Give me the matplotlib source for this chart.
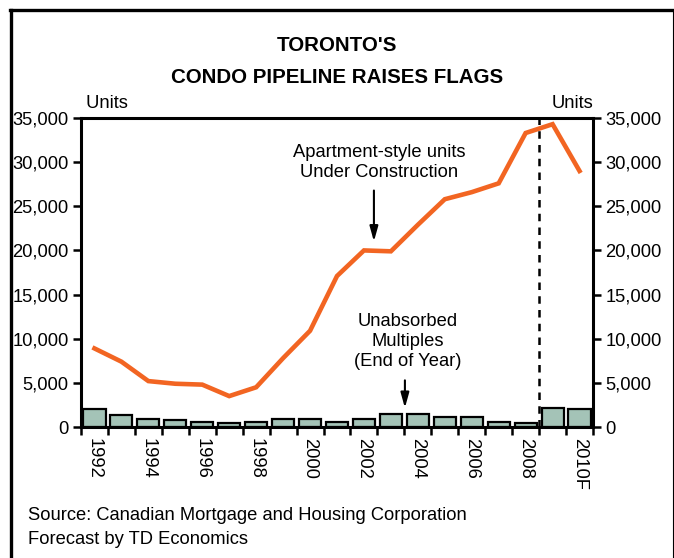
import numpy as np
import matplotlib
matplotlib.use("Agg")
import matplotlib.pyplot as plt
from matplotlib.lines import Line2D

plt.rcParams['font.family'] = ['Liberation Sans', 'DejaVu Sans']

years = ["1992", "1993", "1994", "1995", "1996", "1997", "1998", "1999", "2000", "2001",
         "2002", "2003", "2004", "2005", "2006", "2007", "2008", "2009", "2010F"]
under_construction = [8900, 7400, 5200, 4900, 4800, 3500, 4500, 7800, 10900, 17100,
                      20000, 19900, 22900, 25800, 26600, 27600, 33300, 34300, 29000]
unabsorbed = [2000, 1400, 870, 800, 570, 450, 570, 900, 900, 570,
              900, 1430, 1430, 1130, 1170, 570, 450, 2150, 2040]

ORANGE = "#f26522"
BAR = "#a4c3b7"
FS = 13.2

fig = plt.figure(figsize=(6.74, 5.58), dpi=100)
ax = fig.add_axes([81 / 674, 1 - 427 / 558, 512 / 674, 309 / 558])

x = np.arange(len(years))
ax.bar(x, unabsorbed, width=0.82, color=BAR, edgecolor="black", linewidth=1.6, zorder=2)
ax.plot(x, under_construction, color=ORANGE, linewidth=3.3, zorder=3,
        solid_joinstyle="miter")

# forecast divider
ax.axvline(16.5, ymin=0, ymax=1.01, color="black", linestyle=(0, (3, 2.5)),
           linewidth=1.8, clip_on=False, zorder=4)

ax.set_xlim(-0.5, len(years) - 0.5)
ax.set_ylim(0, 35000)

# ticks at the category boundaries, labels on every other year
ax.set_xticks(np.arange(-0.5, len(years), 1.0))
ax.set_xticklabels([])
ax.set_xticks(x[::2], minor=True)
ax.set_xticklabels(years[::2], minor=True, rotation=-90, fontsize=FS)
ax.tick_params(axis="x", which="major", direction="out", length=6, width=1.8)
ax.tick_params(axis="x", which="minor", length=0, pad=8)

yt = np.arange(0, 35001, 5000)
ax.set_yticks(yt)
ax.set_yticklabels([f"{v:,}" for v in yt])
ax.tick_params(axis="y", direction="out", length=6, width=1.8, labelsize=FS,
               left=True, right=True, labelleft=True, labelright=True, pad=3)

for s in ax.spines.values():
    s.set_linewidth(2.2)

ax.text(0.0, 1.02, " Units", transform=ax.transAxes, ha="left", va="bottom", fontsize=FS)
ax.text(1.0, 1.02, "Units", transform=ax.transAxes, ha="right", va="bottom", fontsize=FS)

# annotations
ax.text(10.56, 30000, "Apartment-style units\nUnder Construction", ha="center", va="center",
        fontsize=FS, linespacing=1.25)
ax.annotate("", xy=(10.37, 20700), xytext=(10.37, 27100),
            arrowprops=dict(arrowstyle="-|>,head_length=0.9,head_width=0.25", color="black", lw=1.5))
ax.text(11.63, 9680, "Unabsorbed\nMultiples\n(End of Year)", ha="center", va="center",
        fontsize=FS, linespacing=1.25)
ax.annotate("", xy=(11.52, 1850), xytext=(11.52, 5600),
            arrowprops=dict(arrowstyle="-|>,head_length=0.9,head_width=0.25", color="black", lw=1.5))

# title
fig.text(337 / 674, 1 - 45.5 / 558, "TORONTO'S", ha="center", va="center",
         fontsize=14.8, fontweight="bold")
fig.text(337 / 674, 1 - 77.5 / 558, "CONDO PIPELINE RAISES FLAGS", ha="center", va="center",
         fontsize=14.8, fontweight="bold")

# source
fig.text(28 / 674, 1 - 515 / 558, "Source: Canadian Mortgage and Housing Corporation",
         ha="left", va="center", fontsize=FS)
fig.text(28 / 674, 1 - 539 / 558, "Forecast by TD Economics",
         ha="left", va="center", fontsize=FS)

# frame around the chart
fig.add_artist(Line2D([10.5 / 674, 10.5 / 674], [0, 1 - 9.5 / 558], color="black", lw=2.4,
                      transform=fig.transFigure))
fig.add_artist(Line2D([9.5 / 674, 673 / 674], [1 - 9.5 / 558, 1 - 9.5 / 558], color="black",
                      lw=2.4, transform=fig.transFigure))
fig.add_artist(Line2D([672.5 / 674, 672.5 / 674], [0, 1 - 9.5 / 558], color="black", lw=0.8,
                      transform=fig.transFigure))

fig.savefig("out.png", dpi=100)
